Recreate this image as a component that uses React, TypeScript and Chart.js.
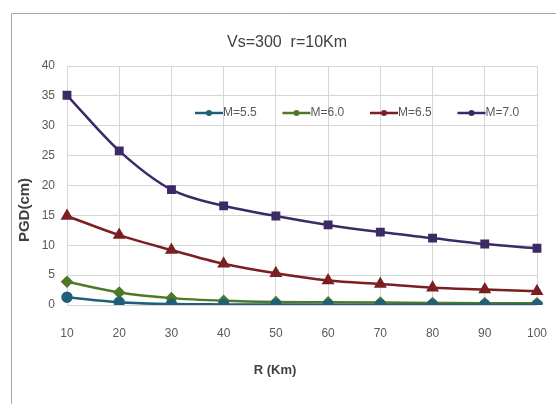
import React, { useEffect, useRef } from "react";
import { Chart, registerables } from "chart.js";

Chart.register(...registerables);

const distances = ["10", "20", "30", "40", "50", "60", "70", "80", "90", "100"];
const m55 = [1.3, 0.45, 0.15, 0.1, 0.07, 0.05, 0.04, 0.03, 0.03, 0.02];
const m60 = [3.9, 2.1, 1.15, 0.7, 0.5, 0.45, 0.4, 0.35, 0.3, 0.3];
const m65 = [14.9, 11.7, 9.2, 6.9, 5.3, 4.1, 3.5, 2.9, 2.6, 2.3];
const m70 = [35.1, 25.8, 19.3, 16.6, 14.9, 13.4, 12.2, 11.2, 10.2, 9.5];
const yTicks = [0, 5, 10, 15, 20, 25, 30, 35, 40];

const chartTitle = "Vs=300  r=10Km";
const xTitle = "R (Km)";
const yTitle = "PGD(cm)";

const FONT = '"Liberation Sans", Arial, sans-serif';

const decorPlugin = {
  id: "decor",
  beforeDraw(chart: any) {
    const ctx = chart.ctx;
    ctx.save();
    ctx.fillStyle = "#ffffff";
    ctx.fillRect(0, 0, chart.width, chart.height);
    ctx.strokeStyle = "#a8a8a8";
    ctx.lineWidth = 1;
    ctx.beginPath();
    ctx.moveTo(11.5, chart.height);
    ctx.lineTo(11.5, 13.5);
    ctx.lineTo(chart.width, 13.5);
    ctx.stroke();
    ctx.restore();
  },
  afterDraw(chart: any) {
    const ctx = chart.ctx;
    ctx.save();
    ctx.fillStyle = "#404040";
    ctx.textAlign = "center";
    ctx.textBaseline = "middle";
    ctx.font = `16px ${FONT}`;
    ctx.fillText(chartTitle, 287, 43);
    ctx.font = `bold 13px ${FONT}`;
    ctx.fillText(xTitle, 275, 370);
    ctx.translate(25, 210);
    ctx.rotate(-Math.PI / 2);
    ctx.font = `bold 15px ${FONT}`;
    ctx.fillText(yTitle, 0, 0);
    ctx.restore();
  },
};

const legendPlugin = {
  id: "insideLegend",
  afterDatasetsDraw(chart: any) {
    const ctx = chart.ctx;
    const y = 113;
    let x = 195;
    ctx.save();
    chart.data.datasets.forEach((ds: any) => {
      ctx.strokeStyle = ds.borderColor;
      ctx.lineWidth = 2.5;
      ctx.beginPath();
      ctx.moveTo(x, y);
      ctx.lineTo(x + 28, y);
      ctx.stroke();
      ctx.fillStyle = ds.borderColor;
      ctx.beginPath();
      ctx.arc(x + 14, y, 3, 0, Math.PI * 2);
      ctx.fill();
      ctx.fillStyle = "#595959";
      ctx.font = `12px ${FONT}`;
      ctx.textAlign = "left";
      ctx.textBaseline = "middle";
      ctx.fillText(ds.label, x + 28, y);
      x += 87.5;
    });
    ctx.restore();
  },
};

export default function App() {
  const ref = useRef<HTMLCanvasElement>(null);
  useEffect(() => {
    const canvas = ref.current;
    if (!canvas) return;
    const mk = (label: string, data: number[], color: string, style: string, r: number) => ({
      label,
      data,
      borderColor: color,
      backgroundColor: color,
      borderWidth: 2.5,
      pointStyle: style,
      pointRadius: r,
      pointHoverRadius: r,
      cubicInterpolationMode: "monotone" as const,
      fill: false,
    });
    const chart = new Chart(canvas, {
      type: "line",
      data: {
        labels: distances,
        datasets: [
          mk("M=5.5", m55, "#1f5f78", "circle", 4.5),
          mk("M=6.0", m60, "#4e7a27", "rectRot", 4.5),
          mk("M=6.5", m65, "#7a1f22", "triangle", 5),
          mk("M=7.0", m70, "#3b2a66", "rect", 4.5),
        ],
      },
      options: {
        responsive: false,
        animation: false,
        layout: { padding: { left: 37, right: 19, top: 66, bottom: 59 } },
        plugins: {
          legend: { display: false },
          title: { display: false },
          tooltip: { enabled: false },
        },
        scales: {
          x: {
            offset: false,
            grid: { color: "#d6d6d6", drawTicks: false },
            border: { display: false },
            ticks: {
              padding: 21,
              color: "#595959",
              font: { family: FONT, size: 12 },
              maxRotation: 0,
              autoSkip: false,
            },
            afterFit: (s: any) => {
              s.height = 40;
              s.paddingLeft = 0;
              s.paddingRight = 0;
            },
          },
          y: {
            min: 0,
            max: 40,
            afterBuildTicks: (s: any) => {
              s.ticks = yTicks.map((v) => ({ value: v }));
            },
            grid: { color: "#d6d6d6", drawTicks: false },
            border: { display: false },
            ticks: {
              padding: 12,
              color: "#595959",
              font: { family: FONT, size: 12 },
            },
            afterFit: (s: any) => {
              s.width = 30;
              s.paddingTop = 0;
              s.paddingBottom = 0;
            },
          },
        },
      },
      plugins: [decorPlugin, legendPlugin],
    });
    return () => chart.destroy();
  }, []);
  return (
    <div style={{ position: "absolute", left: 0, top: 0, width: 556, height: 404 }}>
      <canvas ref={ref} width={556} height={404} style={{ width: 556, height: 404, display: "block" }} />
    </div>
  );
}
